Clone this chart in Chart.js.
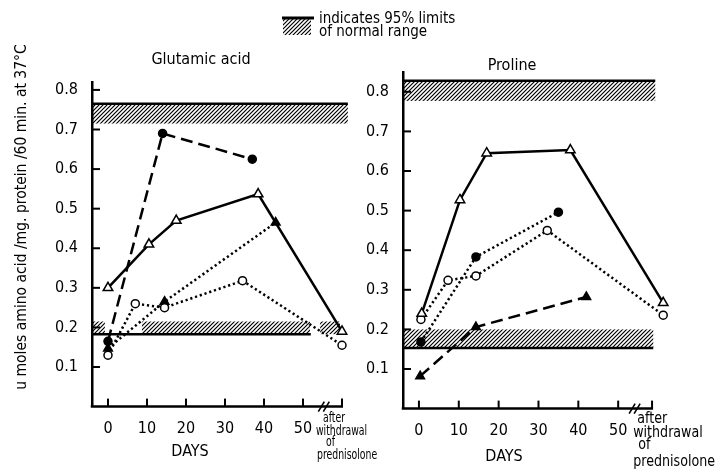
<!DOCTYPE html>
<html><head><meta charset="utf-8">
<script src="https://cdn.jsdelivr.net/npm/chart.js@4/dist/chart.umd.min.js"></script>
<style>
html,body{margin:0;padding:0;background:#fff;}
#wrap{position:relative;width:720px;height:472px;overflow:hidden;background:#fff;}
#wrap canvas{position:absolute;left:0;top:0;}
</style></head><body>
<div id="wrap"><canvas id="c1" width="720" height="472"></canvas><canvas id="c2" width="720" height="472"></canvas></div>
<script>
const FONT = "'Liberation Sans Narrow','DejaVu Sans Condensed','Arial Narrow','Liberation Sans',sans-serif";

// ---- tick labels / categories ----
const dayTicks = [0, 10, 20, 30, 40, 50];
const yTickValues = [0.1, 0.2, 0.3, 0.4, 0.5, 0.6, 0.7, 0.8];
const yTickLabels = ['0.1', '0.2', '0.3', '0.4', '0.5', '0.6', '0.7', '0.8'];
const afterLabel = ['after', 'withdrawal', 'of', 'prednisolone'];
const yTitle = 'u moles amino acid /mg. protein /60 min. at 37°C';
const legendLines = ['indicates 95% limits', 'of normal range'];

// ---- Glutamic acid ----
const gluOpenTriDays = [0, 10.5, 17.5, 38.5, 'after'];
const gluOpenTri = [0.30, 0.41, 0.47, 0.537, 0.19];
const gluFilledCircleDays = [0, 14, 37];
const gluFilledCircle = [0.165, 0.69, 0.625];
const gluOpenCircleDays = [0, 7, 14.5, 34.5, 'after'];
const gluOpenCircle = [0.13, 0.26, 0.25, 0.318, 0.155];
const gluFilledTriDays = [0, 14.5, 43];
const gluFilledTri = [0.147, 0.265, 0.465];
const gluUpperLimit = [0.715, 0.765];
const gluLowerLimit = [0.183, 0.215];

// ---- Proline ----
const proOpenTriDays = [0.7, 10.3, 17, 38, 'after'];
const proOpenTri = [0.24, 0.527, 0.645, 0.653, 0.267];
const proOpenCircleDays = [0.5, 7.3, 14.3, 32.2, 'after'];
const proOpenCircle = [0.225, 0.324, 0.335, 0.45, 0.236];
const proFilledCircleDays = [0.5, 14.3, 35];
const proFilledCircle = [0.168, 0.383, 0.496];
const proFilledTriDays = [0.3, 14.3, 42];
const proFilledTri = [0.082, 0.206, 0.282];
const proUpperLimit = [0.777, 0.828];
const proLowerLimit = [0.153, 0.200];

function makeHatch(ctx) {
  const p = document.createElement('canvas');
  p.width = 4; p.height = 4;
  const c = p.getContext('2d');
  c.strokeStyle = '#000'; c.lineWidth = 1.2;
  c.beginPath();
  c.moveTo(-1, 5); c.lineTo(5, -1);
  c.moveTo(-1, 1); c.lineTo(1, -1);
  c.moveTo(3, 5); c.lineTo(5, 3);
  c.stroke();
  return ctx.createPattern(p, 'repeat');
}

const STYLES = {
  solidOpenTri:   {dash: [], shape: 'triangle', r: 5.5, fill: '#fff'},
  dashFilledCirc: {dash: [12, 6], shape: 'circle', r: 4, fill: '#000'},
  dotOpenCirc:    {dash: [2.2, 2.8], shape: 'circle', r: 4, fill: '#fff'},
  dotFilledTri:   {dash: [2.2, 2.8], shape: 'triangle', r: 5, fill: '#000'},
  dotFilledCirc:  {dash: [2.2, 2.8], shape: 'circle', r: 4, fill: '#000'},
  dashFilledTri:  {dash: [12, 6], shape: 'triangle', r: 5, fill: '#000'}
};

function series(days, vals, style, afterX) {
  const s = STYLES[style];
  return {
    data: days.map((d, i) => ({x: d === 'after' ? afterX : d, y: vals[i]})),
    showLine: true, borderColor: '#000', borderWidth: 2.5, borderDash: s.dash,
    borderCapStyle: 'butt', tension: 0, clip: false,
    pointStyle: s.shape, pointRadius: s.r, pointBackgroundColor: s.fill,
    pointBorderColor: '#000', pointBorderWidth: 1.5, pointHoverRadius: s.r
  };
}

const decor = {
  id: 'decor',
  beforeDatasetsDraw(chart, args, o) {
    const {ctx, chartArea} = chart;
    const x = chart.scales.x, y = chart.scales.y;
    const pat = makeHatch(ctx);
    o.bands.forEach(b => {
      const yLo = y.getPixelForValue(b.range[0]), yHi = y.getPixelForValue(b.range[1]);
      ctx.save();
      ctx.fillStyle = pat;
      b.hatch.forEach(([a, c]) => {
        const xa = a === null ? chartArea.left : x.getPixelForValue(a);
        const xc = x.getPixelForValue(c);
        ctx.fillRect(xa, yHi, xc - xa, yLo - yHi);
      });
      ctx.strokeStyle = '#000'; ctx.lineWidth = 2.5;
      const yl = b.lineAt === 'hi' ? yHi : yLo;
      ctx.beginPath(); ctx.moveTo(chartArea.left, yl); ctx.lineTo(x.getPixelForValue(b.lineTo), yl); ctx.stroke();
      ctx.restore();
    });
    // x axis line, ending at the "after" tick
    ctx.save();
    ctx.strokeStyle = '#000'; ctx.lineWidth = 2.5;
    ctx.beginPath();
    ctx.moveTo(chartArea.left - 1.25, chartArea.bottom);
    ctx.lineTo(x.getPixelForValue(o.afterTick) + 1, chartArea.bottom);
    ctx.stroke();
    ctx.restore();
  },
  afterDraw(chart, args, o) {
    const {ctx, chartArea} = chart;
    const x = chart.scales.x, y = chart.scales.y;
    ctx.save();
    ctx.strokeStyle = '#000'; ctx.fillStyle = '#000'; ctx.lineWidth = 2;
    // inner tick marks
    yTickValues.forEach(v => {
      const py = y.getPixelForValue(v);
      ctx.beginPath(); ctx.moveTo(chartArea.left, py); ctx.lineTo(chartArea.left + 8, py); ctx.stroke();
    });
    dayTicks.concat([o.afterTick]).forEach(v => {
      const px = x.getPixelForValue(v);
      ctx.beginPath(); ctx.moveTo(px, chartArea.bottom); ctx.lineTo(px, chartArea.bottom - 8); ctx.stroke();
    });
    // axis break
    const bx = x.getPixelForValue(o.breakAt), by = chartArea.bottom;
    ctx.lineWidth = 1.6;
    [0, 5].forEach(dx => {
      ctx.beginPath(); ctx.moveTo(bx + dx - 3, by + 5); ctx.lineTo(bx + dx + 3, by - 5); ctx.stroke();
    });
    // after-withdrawal label (left aligned, condensed)
    ctx.textAlign = 'left'; ctx.textBaseline = 'middle';
    ctx.font = o.afterFont + 'px ' + FONT;
    const ax = x.getPixelForValue(o.afterX);
    afterLabel.forEach((t, i) => {
      ctx.save();
      ctx.translate(ax + o.afterDx[i], o.afterY[i]);
      ctx.scale(o.afterScale, 1);
      ctx.fillText(t, 0, 0);
      ctx.restore();
    });
    // panel title and x title
    ctx.textAlign = 'center';
    ctx.font = '16px ' + FONT;
    ctx.fillText(o.title, o.titlePos[0], o.titlePos[1]);
    ctx.fillText('DAYS', o.daysPos[0], o.daysPos[1]);
    if (o.main) {
      // y axis title
      ctx.save();
      ctx.translate(22, 217); ctx.rotate(-Math.PI / 2);
      ctx.font = '15.5px ' + FONT;
      ctx.fillText(yTitle, 0, 0);
      ctx.restore();
      // legend
      ctx.fillStyle = makeHatch(ctx);
      ctx.fillRect(283, 19, 28, 16);
      ctx.fillStyle = '#000';
      ctx.lineWidth = 3;
      ctx.beginPath(); ctx.moveTo(282, 18); ctx.lineTo(314, 18); ctx.stroke();
      ctx.textAlign = 'left';
      ctx.font = '15px ' + FONT;
      ctx.fillText(legendLines[0], 319, 19);
      ctx.fillText(legendLines[1], 319, 32);
    }
    ctx.restore();
  }
};

function makeChart(id, cfg) {
  return new Chart(document.getElementById(id), {
    type: 'scatter',
    data: {datasets: cfg.datasets},
    options: {
      responsive: false, animation: false, devicePixelRatio: 1,
      layout: {padding: {left: 0, top: cfg.top, right: cfg.right, bottom: 0}},
      plugins: {legend: {display: false}, tooltip: {enabled: false}, decor: cfg.decor},
      events: [],
      scales: {
        x: {
          type: 'linear', min: cfg.xMin, max: cfg.xMax,
          afterBuildTicks: s => { s.ticks = dayTicks.map(v => ({value: v})); },
          afterFit: s => { s.height = cfg.xHeight; },
          grid: {display: false, drawTicks: false},
          border: {display: false},
          ticks: {autoSkip: false, maxRotation: 0, padding: 13, color: '#000',
                  font: {family: FONT, size: 16}, callback: v => String(v)}
        },
        y: {
          type: 'linear', min: 0, max: cfg.yMax,
          afterBuildTicks: s => { s.ticks = yTickValues.map(v => ({value: v})); },
          afterFit: s => { s.width = cfg.yWidth; },
          grid: {display: false, drawTicks: false},
          border: {display: true, color: '#000', width: 2.5},
          ticks: {padding: 14, color: '#000', font: {family: FONT, size: 16},
                  callback: (v, i) => yTickLabels[i]}
        }
      }
    },
    plugins: [decor]
  });
}

const AFTER_GLU = 60, AFTER_PRO = 61.3;

makeChart('c1', {
  top: 82, right: 720 - 342, yWidth: 92, xHeight: 472 - 406.6,
  xMin: -4.1, xMax: 60, yMax: 0.82,
  datasets: [
    series(gluOpenTriDays, gluOpenTri, 'solidOpenTri', AFTER_GLU),
    series(gluFilledCircleDays, gluFilledCircle, 'dashFilledCirc', AFTER_GLU),
    series(gluOpenCircleDays, gluOpenCircle, 'dotOpenCirc', AFTER_GLU),
    series(gluFilledTriDays, gluFilledTri, 'dotFilledTri', AFTER_GLU)
  ],
  decor: {
    main: true, afterTick: 60, afterX: AFTER_GLU, breakAt: 54.7,
    afterFont: 14, afterScale: 0.74, afterDx: [-19, -26, -16, -25], afterY: [418, 431, 442, 455],
    title: 'Glutamic acid', titlePos: [201, 60], daysPos: [190, 452],
    bands: [
      {range: gluUpperLimit, lineAt: 'hi', lineTo: 61.5, hatch: [[null, 61.5]]},
      {range: gluLowerLimit, lineAt: 'lo', lineTo: 52, hatch: [[null, -0.8], [8.7, 51.8], [54.4, 59.5]]}
    ]
  }
});

makeChart('c2', {
  top: 72, right: 720 - 666, yWidth: 403, xHeight: 472 - 408.6,
  xMin: -4.0, xMax: 62, yMax: 0.85,
  datasets: [
    series(proOpenTriDays, proOpenTri, 'solidOpenTri', AFTER_PRO),
    series(proOpenCircleDays, proOpenCircle, 'dotOpenCirc', AFTER_PRO),
    series(proFilledCircleDays, proFilledCircle, 'dotFilledCirc', AFTER_PRO),
    series(proFilledTriDays, proFilledTri, 'dashFilledTri', AFTER_PRO)
  ],
  decor: {
    main: false, afterTick: 58.5, afterX: AFTER_PRO, breakAt: 53.5,
    afterFont: 16, afterScale: 0.88, afterDx: [-26, -30, -25, -30], afterY: [419, 433, 445, 462],
    title: 'Proline', titlePos: [512, 66], daysPos: [504, 457],
    bands: [
      {range: proUpperLimit, lineAt: 'hi', lineTo: 59.3, hatch: [[null, 59.3]]},
      {range: proLowerLimit, lineAt: 'lo', lineTo: 58.8, hatch: [[null, 58.8]]}
    ]
  }
});
</script>
</body></html>
